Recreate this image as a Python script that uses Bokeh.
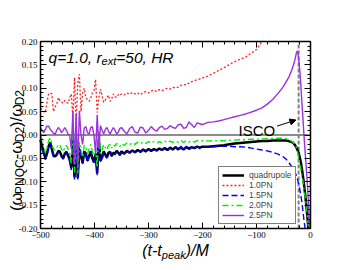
import numpy as np
from bokeh.plotting import figure
from bokeh.models import (ColumnDataSource, Label, Arrow, NormalHead, LinearAxis,
                          Legend, LegendItem, Range1d, SingleIntervalTicker, NumeralTickFormatter,
                          CustomJSTickFormatter)
from bokeh.embed import file_html
from bokeh.resources import INLINE

nan = float("nan")

# time axis (t - t_peak)/M
t = [-500, -497, -494, -491, -488, -485, -482, -479, -476, -473, -470, -467, -464, -461, -458, -455, -452,
     -449, -446, -443, -440, -437, -434, -431, -428, -425, -422, -419, -416, -413, -410, -407, -404, -401,
     -398, -395, -392, -389, -386, -383, -380, -377, -374, -371, -368, -365, -362, -359, -356, -353, -350,
     -345, -340, -335, -330, -325, -320, -315, -310, -305, -300, -295, -290, -285, -280, -275, -270, -265,
     -260, -255, -250, -245, -240, -235, -230, -225, -220, -215, -210, -205, -200,
     -190, -180, -170, -160, -150, -140, -130, -120, -110, -100, -90, -80, -70, -60, -50,
     -45, -40, -35, -32, -29, -26, -24, -22, -20, -18, -16, -14, -12, -10, -8, -6, -4, -2, 0]

quadrupole = [-0.010, -0.025, -0.037, -0.050, -0.040, -0.024, -0.016, -0.030, -0.044, -0.046,
              -0.042, -0.034, -0.036, -0.045, -0.050, -0.040, -0.036, -0.044, -0.052, -0.070,
              -0.010, -0.090, -0.020, -0.092, -0.030, -0.045, -0.060, -0.035, -0.040, -0.055,
              -0.045, -0.035, -0.050, -0.058, -0.040, -0.082, -0.010, -0.055, -0.048, -0.035,
              -0.042, -0.048, -0.038, -0.036, -0.045, -0.038, -0.040, -0.034, -0.038, -0.042, -0.035,
              -0.040, -0.034, -0.038, -0.033, -0.037, -0.032, -0.036, -0.031, -0.035, -0.030,
              -0.034, -0.030, -0.033, -0.029, -0.032, -0.028, -0.032, -0.027, -0.031, -0.026,
              -0.030, -0.027, -0.031, -0.026, -0.029, -0.026, -0.028, -0.025, -0.027, -0.025,
              -0.025, -0.024, -0.023, -0.022, -0.020, -0.018, -0.017, -0.016, -0.015, -0.014,
              -0.013, -0.013, -0.012, -0.012, -0.012,
              -0.012, -0.013, -0.015, -0.017, -0.021, -0.027, -0.032, -0.038, -0.047, -0.058,
              -0.072, -0.088, -0.106, -0.126, -0.148, -0.172, -0.200, nan, nan]

pn10 = [0.058, 0.055, 0.050, 0.048, 0.070, 0.088, 0.090, 0.088, 0.050, 0.060,
        0.066, 0.080, 0.072, 0.070, 0.068, 0.074, 0.070, 0.068, 0.080, 0.088,
        0.037, 0.123, 0.023, 0.110, 0.130, 0.050, 0.090, 0.100, 0.080, 0.075,
        0.072, 0.078, 0.090, 0.095, 0.119, 0.048, 0.080, 0.098, 0.085, 0.070,
        0.075, 0.080, 0.085, 0.072, 0.078, 0.088, 0.082, 0.080, 0.086, 0.084, 0.088,
        0.086, 0.090, 0.087, 0.091, 0.088, 0.090, 0.086, 0.091, 0.093, 0.090,
        0.094, 0.096, 0.093, 0.097, 0.095, 0.098, 0.100, 0.098, 0.101, 0.103,
        0.102, 0.106, 0.108, 0.107, 0.111, 0.114, 0.116, 0.118, 0.120, 0.122,
        0.126, 0.132, 0.138, 0.144, 0.151, 0.157, 0.162, 0.167, 0.175, 0.183,
        0.200, nan, nan, nan, nan,
        nan, nan, nan, nan, nan, nan, nan, nan, nan, nan,
        nan, nan, nan, nan, nan, nan, nan, nan, nan]

pn15 = [-0.012, -0.028, -0.040, -0.053, -0.042, -0.026, -0.018, -0.032, -0.046, -0.048,
        -0.044, -0.036, -0.038, -0.047, -0.052, -0.042, -0.038, -0.046, -0.055, -0.075,
        0.010, -0.095, 0.005, -0.098, -0.025, -0.048, -0.062, -0.037, -0.042, -0.057,
        -0.047, -0.037, -0.052, -0.060, -0.042, -0.086, 0.005, -0.057, -0.050, -0.037,
        -0.044, -0.050, -0.040, -0.038, -0.047, -0.040, -0.042, -0.036, -0.040, -0.044, -0.037,
        -0.041, -0.035, -0.039, -0.034, -0.038, -0.033, -0.037, -0.032, -0.036, -0.031,
        -0.035, -0.031, -0.034, -0.030, -0.033, -0.029, -0.033, -0.028, -0.032, -0.025,
        -0.034, -0.024, -0.033, -0.024, -0.032, -0.025, -0.030, -0.025, -0.029, -0.026,
        -0.026, -0.025, -0.024, -0.024, -0.024, -0.025, -0.025, -0.026, -0.028, -0.030,
        -0.032, -0.034, -0.037, -0.041, -0.047,
        -0.052, -0.059, -0.067, -0.074, -0.080, -0.087, -0.095, -0.105, -0.115, -0.128,
        -0.143, -0.162, -0.183, -0.200, nan, nan, nan, nan, nan]

pn20 = [0.000, -0.012, -0.025, -0.038, -0.028, -0.012, -0.006, -0.018, -0.030, -0.032,
        -0.028, -0.020, -0.022, -0.030, -0.036, -0.027, -0.022, -0.030, -0.040, -0.060,
        0.015, -0.080, 0.010, -0.082, -0.015, -0.032, -0.048, -0.022, -0.027, -0.040,
        -0.030, -0.020, -0.036, -0.044, -0.028, -0.070, 0.008, -0.040, -0.032, -0.020,
        -0.026, -0.032, -0.022, -0.020, -0.028, -0.021, -0.024, -0.018, -0.022, -0.025, -0.019,
        -0.022, -0.017, -0.021, -0.016, -0.020, -0.015, -0.019, -0.015, -0.018, -0.014,
        -0.018, -0.014, -0.017, -0.014, -0.017, -0.013, -0.017, -0.013, -0.016, -0.013,
        -0.016, -0.012, -0.016, -0.012, -0.015, -0.012, -0.015, -0.012, -0.014, -0.012,
        -0.013, -0.012, -0.012, -0.012, -0.011, -0.011, -0.010, -0.010, -0.009, -0.009,
        -0.0085, -0.008, -0.0075, -0.007, -0.007,
        -0.008, -0.010, -0.013, -0.016, -0.020, -0.027, -0.036, -0.050, -0.060, -0.073,
        -0.086, -0.100, -0.116, -0.132, -0.150, -0.170, -0.195, -0.200, nan]

pn25 = [0.016, 0.010, 0.005, 0.012, 0.019, 0.019, 0.012, 0.008, 0.004, 0.001,
        0.010, 0.016, 0.012, 0.005, 0.010, 0.016, 0.010, 0.002, 0.000, -0.030,
        0.050, -0.060, 0.045, -0.070, 0.052, 0.000, -0.020, 0.015, 0.018, 0.005,
        0.002, 0.016, 0.018, 0.000, -0.040, 0.043, -0.030, 0.020, 0.010, 0.002,
        0.012, 0.016, 0.008, 0.002, 0.010, 0.016, 0.010, 0.002, 0.006, 0.014, 0.016,
        0.008, 0.002, 0.014, 0.018, 0.006, 0.004, 0.017, 0.015, 0.004, 0.010,
        0.018, 0.012, 0.008, 0.016, 0.019, 0.012, 0.014, 0.020, 0.016, 0.014,
        0.022, 0.023, 0.014, 0.016, 0.028, 0.022, 0.016, 0.026, 0.024, 0.022,
        0.027, 0.028, 0.030, 0.033, 0.036, 0.039, 0.042, 0.045, 0.049, 0.053,
        0.058, 0.066, 0.076, 0.089, 0.104,
        0.114, 0.124, 0.138, 0.148, 0.160, 0.176, 0.180, 0.165, 0.140, 0.108,
        0.070, 0.035, -0.002, -0.035, -0.068, -0.100, -0.140, -0.195, nan]

x_min, x_max = -500, 0
y_min, y_max = -0.2, 0.2
x_ticks_major = 100
y_ticks_major = 0.05
isco_t = -22
legend_labels = ["quadrupole", "1.0PN", "1.5PN", "2.0PN", "2.5PN"]

# canvas layout: data box occupies pixels 40..310 (x) and 41..228 (y) of 349x270
W, H = 349, 270
BOX_L, BOX_R, BOX_T, BOX_B = 40, 310, 41, 228
sx = (BOX_R - BOX_L) / (x_max - x_min)
sy = (BOX_B - BOX_T) / (y_max - y_min)
xr = Range1d(x_min - BOX_L / sx, x_max + (W - BOX_R) / sx)
yr = Range1d(y_min - (H - BOX_B) / sy, y_max + BOX_T / sy)

src = ColumnDataSource(dict(t=t, q=quadrupole, p10=pn10, p15=pn15, p20=pn20, p25=pn25))

p = figure(width=W, height=H, x_range=xr, y_range=yr, output_backend="svg", toolbar_location=None,
           min_border=0)
p.xgrid.visible = False
p.ygrid.visible = False
p.outline_line_color = None
p.background_fill_color = "white"
p.border_fill_color = "white"

def style_axis(ax, show_labels, loc, bounds, fmt=None):
    ax.fixed_location = loc
    ax.bounds = bounds
    ax.axis_line_color = "black"
    ax.axis_line_width = 1.5
    ax.major_tick_in = 6
    ax.major_tick_out = 0
    ax.minor_tick_in = 3
    ax.minor_tick_out = 0
    ax.major_tick_line_color = "black"
    ax.minor_tick_line_color = "black"
    ax.major_label_text_font = "Liberation Serif"
    ax.major_label_text_font_size = "9px"
    ax.major_label_text_color = "black"
    ax.major_label_standoff = 3
    if not show_labels:
        ax.formatter = CustomJSTickFormatter(code="return ''")
    elif fmt is not None:
        ax.formatter = fmt

xt = SingleIntervalTicker(interval=x_ticks_major, num_minor_ticks=5)
yt = SingleIntervalTicker(interval=y_ticks_major, num_minor_ticks=5)
p.xaxis.ticker = xt
p.yaxis.ticker = yt
style_axis(p.xaxis[0], True, y_min, (x_min, x_max))
style_axis(p.yaxis[0], True, x_min, (y_min, y_max), NumeralTickFormatter(format="0.00"))
ax_top = LinearAxis(ticker=xt)
ax_right = LinearAxis(ticker=yt)
style_axis(ax_top, False, y_max, (x_min, x_max))
style_axis(ax_right, False, x_max, (y_min, y_max))
p.add_layout(ax_top, "above")
p.add_layout(ax_right, "right")

# reference lines: zero line and ISCO marker
p.segment(x0=[x_min], x1=[x_max], y0=[0], y1=[0], line_color="#8c8c8c", line_width=2)
p.segment(x0=[isco_t], x1=[isco_t], y0=[y_min], y1=[y_max], line_color="#808080", line_width=2,
          line_dash="4 2")

r_q = p.line("t", "q", source=src, line_color="black", line_width=2.5)
r_10 = p.line("t", "p10", source=src, line_color="#ff2020", line_width=1.3, line_dash="2 2")
r_15 = p.line("t", "p15", source=src, line_color="#0000ff", line_width=1.4, line_dash="6 3")
r_20 = p.line("t", "p20", source=src, line_color="#00ee00", line_width=1.4, line_dash="6 3 2 3")
r_25 = p.line("t", "p25", source=src, line_color="#9b30e0", line_width=1.4)

legend = Legend(items=[LegendItem(label=l, renderers=[r]) for l, r in
                       zip(legend_labels, [r_q, r_10, r_15, r_20, r_25])],
                location=(218, H - 224))
legend.border_line_color = "black"
legend.border_line_width = 1
legend.background_fill_color = "white"
legend.background_fill_alpha = 1
legend.label_text_font = "Liberation Sans"
legend.label_text_font_size = "8.5px"
legend.label_text_line_height = 1.0
legend.label_height = 8
legend.glyph_height = 8
legend.glyph_width = 22
legend.label_standoff = 5
legend.spacing = -4
legend.padding = 3
legend.margin = 0
p.add_layout(legend)

# text helpers
HW = {' ': 278, '(': 333, ')': 333, '-': 333, '/': 278, '.': 278, ',': 278, '=': 584,
      '0': 556, '1': 556, '2': 556, '5': 556, 'q': 556, 'r': 333, 'e': 556, 'x': 500, 't': 278,
      'H': 722, 'R': 722, 'p': 556, 'a': 556, 'k': 500, 'M': 833, 'P': 667, 'N': 722,
      'Q': 778, 'C': 722, 'D': 722, 'ω': 700}

def tw(s, size):
    return sum(HW[c] for c in s) * size / 1000.0

def add_pieces(x, y, pieces, style="normal", angle=0.0, x_off0=0.0, y_off0=0.0):
    cum = 0.0
    for txt, size, dy in pieces:
        if angle == 0.0:
            xo, yo = x_off0 + cum, y_off0 + dy
        else:
            xo, yo = x_off0 - dy, y_off0 + cum
        p.add_layout(Label(x=x, y=y, x_offset=xo, y_offset=yo, text=txt, angle=angle,
                           text_font="Liberation Sans", text_font_size=f"{size}px",
                           text_font_style=style, text_color="black",
                           text_baseline="alphabetic", text_align="left"))
        cum += tw(txt, size)
    return cum

# annotation in the upper-left
add_pieces(-485, 0.166, [("q=1.0, r", 15.5, 0), ("ext", 11, -4), ("=50, HR", 15.5, 0)], style="italic")

# ISCO label (screen position, canvas == frame) and arrow
p.add_layout(Label(x=238, y=H - 130, x_units="screen", y_units="screen", text="ISCO",
                   text_font="Liberation Sans", text_font_size="15px",
                   text_color="black", text_baseline="alphabetic", text_align="left"))
p.add_layout(Arrow(end=NormalHead(size=6, fill_color="black", line_color="black"),
                   x_start=-62, y_start=0.019, x_end=-27, y_end=0.032, line_color="black", line_width=1))

# x axis label (below the box)
xl = [("(t-t", 16, 0), ("peak", 11, -4), (")/M", 16, 0)]
xw = sum(tw(s, z) for s, z, _ in xl)
add_pieces((x_min + x_max) / 2, y_min, xl, style="italic", x_off0=-xw / 2, y_off0=-22)

# y axis label (left of the box, rotated)
yl = [("(ω", 16.5, 0), ("PNQC", 12, -4.5), ("-ω", 16.5, 0), ("D2", 12, -4.5), (")/ω", 16.5, 0), ("D2", 12, -4.5)]
yw = sum(tw(s, z) for s, z, _ in yl)
add_pieces(x_min, y_min, yl, angle=np.pi / 2, x_off0=-25, y_off0=(BOX_B - 150) - yw / 2)

open("out.html", "w").write(file_html(p, INLINE))
